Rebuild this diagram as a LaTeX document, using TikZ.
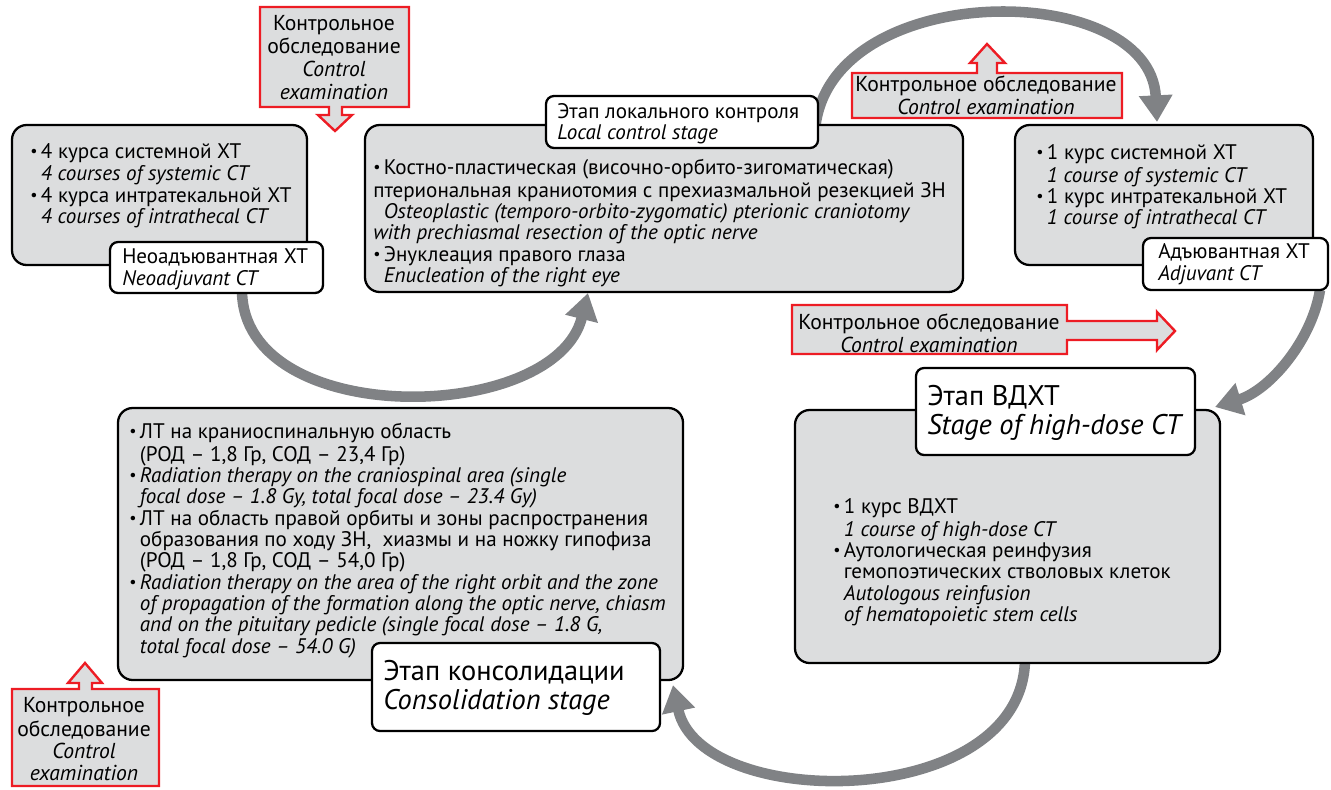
\documentclass[tikz,border=0pt]{standalone}
\usepackage{fontspec}
\setmainfont{PT Sans}
\usetikzlibrary{arrows.meta,fit}
\definecolor{boxgray}{HTML}{DCDDDE}
\definecolor{arrgray}{HTML}{808285}
\definecolor{cred}{HTML}{ED1C24}
\newcommand\bu{\makebox[8pt][l]{\raisebox{1.6pt}{\fontsize{12}{12}\selectfont •}}}
\newcommand\ind{\hspace*{8pt}}
\begin{document}
\begin{tikzpicture}[x=0.75pt,y=-0.75pt,
 gbox/.style={draw=black, fill=boxgray, line width=1.7pt, rounded corners=11pt, inner sep=0pt},
 wbox/.style={draw=black, fill=white, line width=1.7pt, rounded corners=6pt, inner sep=0pt},
 txt/.style={inner sep=0pt, align=left, anchor=north west, font=\fontsize{15.8}{16}\selectfont},
 bigtxt/.style={inner sep=0pt, align=left, anchor=north west, font=\fontsize{21.3}{21.75}\selectfont},
 flow/.style={draw=arrgray, line width=7.9pt, -{Triangle[length=20pt,width=24pt]}},
 callout/.style={draw=cred, fill=boxgray, line width=1.8pt},
 ctxt/.style={inner sep=0pt, align=center, anchor=north},
]
\useasboundingbox (0,0) rectangle (1331,789);

% --- connectors (gray curved arrows)
\coordinate (a1s) at (242,290);  \coordinate (a1e) at (588,293);
\coordinate (a2s) at (815,130);  \coordinate (a2e) at (1157,122);
\coordinate (a3s) at (1320,290); \coordinate (a3e) at (1215,407);
\coordinate (a4s) at (1025,660); \coordinate (a4e) at (673,685);
\draw[flow] (a1s) .. controls (242,430) and (555,425) .. (a1e);
\draw[flow] (a2s) .. controls (828,-22) and (1150,-22) .. (a2e);
\draw[flow] (a3s) .. controls (1312,340) and (1270,390) .. (a3e);
\draw[flow] (a4s) .. controls (1022,812) and (700,812) .. (a4e);

% --- gray boxes
\node[gbox, fit={(12,125) (307,265)}] (neo) {};
\node[gbox, fit={(365,125) (963,292)}] (loc) {};
\node[gbox, fit={(1015,125) (1313,265)}] (adj) {};
\node[gbox, fit={(795,410) (1220,663)}] (hd) {};
\node[gbox, fit={(118,408) (683,680)}] (cons) {};

% --- box texts
\node[txt] (neotxt) at (30,143) {\strut\bu 4 курса системной ХТ\\
\ind\textit{4 courses of systemic CT}\\
\bu 4 курса интратекальной ХТ\\
\ind\textit{4 courses of intrathecal CT}};

\node[txt] (loctxt) at (373,159) {\strut\bu Костно-пластическая (височно-орбито-зигоматическая)\\
птериональная краниотомия с прехиазмальной резекцией ЗН\\
\ind\textit{Osteoplastic (temporo-orbito-zygomatic) pterionic craniotomy}\\
\textit{with prechiasmal resection of the optic nerve}\\
\bu Энуклеация правого глаза\\
\ind\textit{Enucleation of the right eye}};

\node[txt] (adjtxt) at (1036,144) {\strut\bu 1 курс системной ХТ\\
\ind\textit{1 course of systemic CT}\\
\bu 1 курс интратекальной ХТ\\
\ind\textit{1 course of intrathecal CT}};

\node[txt] (hdtxt) at (833,498) {\strut\bu 1 курс ВДХТ\\
\ind\textit{1 course of high-dose CT}\\
\bu Аутологическая реинфузия\\
\ind гемопоэтических стволовых клеток\\
\ind\textit{Autologous reinfusion}\\
\ind\textit{of hematopoietic stem cells}};

\node[txt] (constxt) at (129,423) {\strut\bu ЛТ на краниоспинальную область\\
\ind(РОД – 1,8 Гр, СОД – 23,4 Гр)\\
\bu\textit{Radiation therapy on the craniospinal area (single}\\
\ind\textit{focal dose – 1.8 Gy, total focal dose – 23.4 Gy)}\\
\bu ЛТ на область правой орбиты и зоны распространения\\
\ind образования по ходу ЗН,\ \ хиазмы и на ножку гипофиза\\
\ind(РОД – 1,8 Гр, СОД – 54,0 Гр)\\
\bu\textit{Radiation therapy on the area of the right orbit and the zone}\\
\ind\textit{of propagation of the formation along the optic nerve, chiasm}\\
\ind\textit{and on the pituitary pedicle (single focal dose – 1.8 G,}\\
\ind\textit{total focal dose – 54.0 G)}};

% --- white stage labels
\node[wbox, fit={(110,242) (323,293)}] (neolab) {};
\node[txt] at (122,248) {\strut Неоадъювантная ХТ\\ \textit{Neoadjuvant CT}};
\node[wbox, fit={(546,96) (818,148)}] (loclab) {};
\node[txt] at (557,103) {\strut Этап локального контроля\\ \textit{Local control stage}};
\node[wbox, fit={(1143,238) (1328,290)}] (adjlab) {};
\node[txt] at (1158,243) {\strut Адъювантная ХТ\\ \textit{Adjuvant CT}};
\node[wbox, fit={(916,368) (1195,455)}] (hdlab) {};
\node[bigtxt] at (927,385) {\strut Этап ВДХТ\\ \textit{Stage of high-dose CT}};
\node[wbox, fit={(372,643) (660,731)}] (conslab) {};
\node[bigtxt] at (383,660) {\strut Этап консолидации\\ \textit{Consolidation stage}};

% --- red control-examination callouts
\path[callout] (260,7) -- (409,7) -- (409,107) -- (342,107) -- (342,115) -- (352,115) -- (335,131) -- (318,115) -- (329,115) -- (329,107) -- (260,107) -- cycle;
\node[ctxt, font=\fontsize{16.2}{17.25}\selectfont] (c1) at (334,14) {\strut Контрольное\\ обследование\\ \textit{Control}\\ \textit{examination}};

\path[callout] (852,73) -- (977,73) -- (977,63) -- (970,63) -- (987,44) -- (1005,63) -- (997,63) -- (997,73) -- (1122,73) -- (1122,118) -- (852,118) -- cycle;
\node[ctxt, font=\fontsize{16.2}{15}\selectfont] (c2) at (986,76) {\strut Контрольное обследование\\ \textit{Control examination}};

\path[callout] (792,305) -- (1067,305) -- (1067,321) -- (1157,321) -- (1157,312) -- (1175,331) -- (1157,350) -- (1157,340) -- (1067,340) -- (1067,354) -- (792,354) -- cycle;
\node[ctxt, font=\fontsize{16.2}{15}\selectfont] (c3) at (929,314) {\strut Контрольное обследование\\ \textit{Control examination}};

\path[callout] (12,689) -- (79,689) -- (79,683) -- (68,683) -- (85,663) -- (102,683) -- (92,683) -- (92,689) -- (159,689) -- (159,786) -- (12,786) -- cycle;
\node[ctxt, font=\fontsize{16.2}{16.5}\selectfont] (c4) at (84,697) {\strut Контрольное\\ обследование\\ \textit{Control}\\ \textit{examination}};
\end{tikzpicture}
\end{document}
